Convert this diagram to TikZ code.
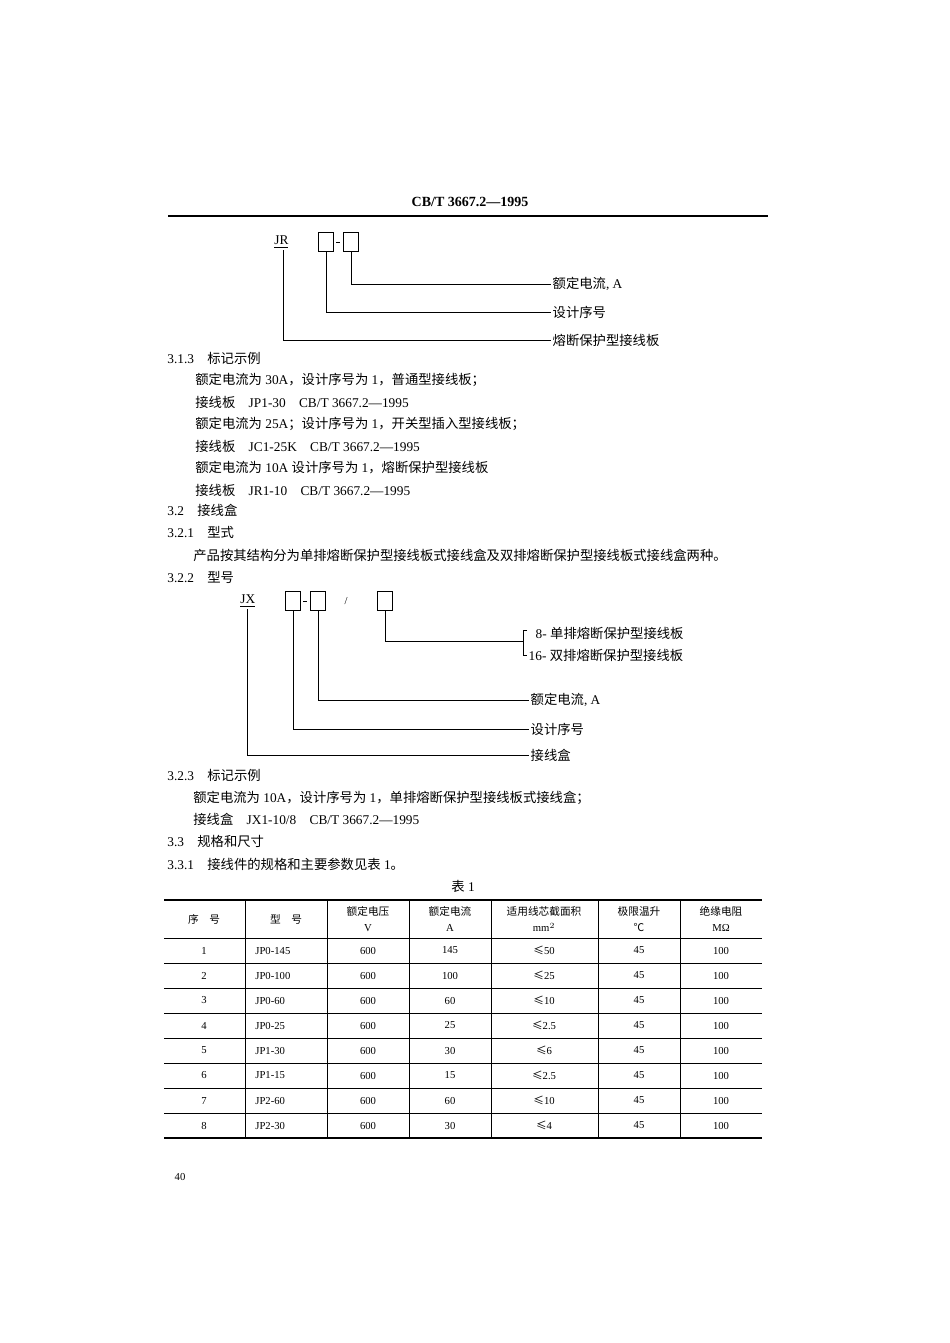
\documentclass[tikz,border=0pt]{standalone}
\usepackage{fontspec}
\setmainfont{Liberation Serif}
\newfontfamily\cjk{Noto Sans CJK SC}
\usetikzlibrary{positioning}
\newcommand{\zh}[1]{{\cjk #1}}
\tikzstyle{Txt} = [anchor=west, inner sep=0pt, font=\fontsize{10}{12}\selectfont]
\tikzstyle{Lbl} = [anchor=west, inner sep=1pt, font=\fontsize{10}{12}\selectfont]
\tikzstyle{Slot} = [draw, minimum width=11.5pt, minimum height=14.5pt, inner sep=0pt]
\tikzstyle{Cell} = [inner sep=0pt, font=\fontsize{8}{9.5}\selectfont]

\begin{document}
\begin{tikzpicture}
    [x=0.75pt, y=-0.75pt, line width=0.6pt]
    \useasboundingbox (0,0) rectangle (950,1343);

    %% Header
    \node [inner sep=0pt, font=\fontsize{10.5}{12}\selectfont\bfseries] (head) at (470,202) {CB/T 3667.2—1995};
    \draw [line width=1.6pt] (168,216) -- (768,216);

    %% Code JR
    \node [Txt] (jr) at (274,242) {\underline{JR}};
    \node [Slot] (jra) at (326,242) {};
    \node [Slot] (jrb) at (351,242) {};
    \draw (336,242) -- (340,242);
    \node [Lbl] (jrcur) at (551,284) {\zh{额定电流}, A};
    \node [Lbl] (jrseq) at (551,312) {\zh{设计序号}};
    \node [Lbl] (jrtype) at (551,340) {\zh{熔断保护型接线板}};
    \coordinate (jrfoot) at (283,250);
    \draw (jrb.south) |- (jrcur.west);
    \draw (jra.south) |- (jrseq.west);
    \draw (jrfoot) |- (jrtype.west);

    %% 3.1.3
    \node [Txt] (s313) at (167,358) {3.1.3\quad \zh{标记示例}};
    \node [Txt] (e1) at (195,380) {\zh{额定电流为} 30A\zh{，设计序号为} 1\zh{，普通型接线板；}};
    \node [Txt] (e2) at (195,402) {\zh{接线板}\quad JP1-30\quad CB/T 3667.2—1995};
    \node [Txt] (e3) at (195,424) {\zh{额定电流为} 25A\zh{；设计序号为} 1\zh{，开关型插入型接线板；}};
    \node [Txt] (e4) at (195,446) {\zh{接线板}\quad JC1-25K\quad CB/T 3667.2—1995};
    \node [Txt] (e5) at (195,468) {\zh{额定电流为} 10A \zh{设计序号为} 1\zh{，熔断保护型接线板}};
    \node [Txt] (e6) at (195,490) {\zh{接线板}\quad JR1-10\quad CB/T 3667.2—1995};
    \node [Txt] (s32) at (167,510) {3.2\quad \zh{接线盒}};
    \node [Txt] (s321) at (167,532) {3.2.1\quad \zh{型式}};
    \node [Txt] (p321) at (193,555) {\zh{产品按其结构分为单排熔断保护型接线板式接线盒及双排熔断保护型接线板式接线盒两种。}};
    \node [Txt] (s322) at (167,577) {3.2.2\quad \zh{型号}};

    %% Code JX
    \node [Txt] (jx) at (240,601) {\underline{JX}};
    \node [Slot] (jxa) at (293,601) {};
    \node [Slot] (jxb) at (318,601) {};
    \draw (303,601) -- (307,601);
    \node [inner sep=0pt, font=\footnotesize] at (346,601) {/};
    \node [Slot] (jxc) at (385,601) {};
    \node [Lbl] (jxs) at (534,633) {8- \zh{单排熔断保护型接线板}};
    \node [Lbl] (jxd) at (527,655) {16- \zh{双排熔断保护型接线板}};
    \node [Lbl] (jxcur) at (529,700) {\zh{额定电流}, A};
    \node [Lbl] (jxseq) at (529,729) {\zh{设计序号}};
    \node [Lbl] (jxbox) at (529,755) {\zh{接线盒}};
    \coordinate (jxfoot) at (247,609);
    \coordinate (brace) at (523,641);
    \draw (jxc.south) |- (brace);
    \draw (527,630) -- (523,630) -- (523,655) -- (527,655);
    \draw (jxb.south) |- (jxcur.west);
    \draw (jxa.south) |- (jxseq.west);
    \draw (jxfoot) |- (jxbox.west);

    %% 3.2.3 and 3.3
    \node [Txt] (s323) at (167,775) {3.2.3\quad \zh{标记示例}};
    \node [Txt] (e7) at (193,798) {\zh{额定电流为} 10A\zh{，设计序号为} 1\zh{，单排熔断保护型接线板式接线盒；}};
    \node [Txt] (e8) at (193,819) {\zh{接线盒}\quad JX1-10/8\quad CB/T 3667.2—1995};
    \node [Txt] (s33) at (167,841) {3.3\quad \zh{规格和尺寸}};
    \node [Txt] (s331) at (167,864) {3.3.1\quad \zh{接线件的规格和主要参数见表} 1\zh{。}};

    %% Table 1
    \node [inner sep=0pt, font=\fontsize{10}{12}\selectfont] (tab) at (463,886) {\zh{表} 1};
    \draw [line width=1.3pt] (164,900) -- (762,900);
    \draw [line width=1.3pt] (164,1138) -- (762,1138);
    \draw (164,938) -- (762,938);
    \foreach \y in {963,988,...,1113} \draw (164,\y) -- (762,\y);
    \foreach \x in {245,327,409,491,598,680} \draw (\x,900) -- (\x,1138);

    \node [Cell] (h1) at (204,919) {\zh{序\quad 号}};
    \node [Cell] (h2) at (286,919) {\zh{型\quad 号}};
    \node [Cell, align=center] (h3) at (368,919) {\zh{额定电压}\\[3pt] V};
    \node [Cell, align=center] (h4) at (450,919) {\zh{额定电流}\\[3pt] A};
    \node [Cell, align=center] (h5) at (544,919) {\zh{适用线芯截面积}\\[3pt] mm$^2$};
    \node [Cell, align=center] (h6) at (639,919) {\zh{极限温升}\\[3pt] \zh{℃}};
    \node [Cell, align=center] (h7) at (721,919) {\zh{绝缘电阻}\\[3pt] MΩ};

    \foreach \n/\m/\i/\s [count=\r from 0] in
        {1/JP0-145/145/50, 2/JP0-100/100/25, 3/JP0-60/60/10, 4/JP0-25/25/2.5,
         5/JP1-30/30/6, 6/JP1-15/15/2.5, 7/JP2-60/60/10, 8/JP2-30/30/4} {
        \pgfmathsetmacro{\yy}{950.5+25*\r}
        \node [Cell] (no\n) at (204,\yy) {\n};
        \node [Cell, anchor=west] (ty\n) at (255,\yy) {\m};
        \node [Cell] (vo\n) at (368,\yy) {600};
        \node [Cell] (cu\n) at (450,\yy) {\i};
        \node [Cell] (se\n) at (544,\yy) {\zh{≤}\s};
        \node [Cell] (te\n) at (639,\yy) {45};
        \node [Cell] (re\n) at (721,\yy) {100};
    }

    %% Page number
    \node [inner sep=0pt, font=\fontsize{8}{9}\selectfont] (page) at (180,1177) {40};
\end{tikzpicture}
\end{document}
